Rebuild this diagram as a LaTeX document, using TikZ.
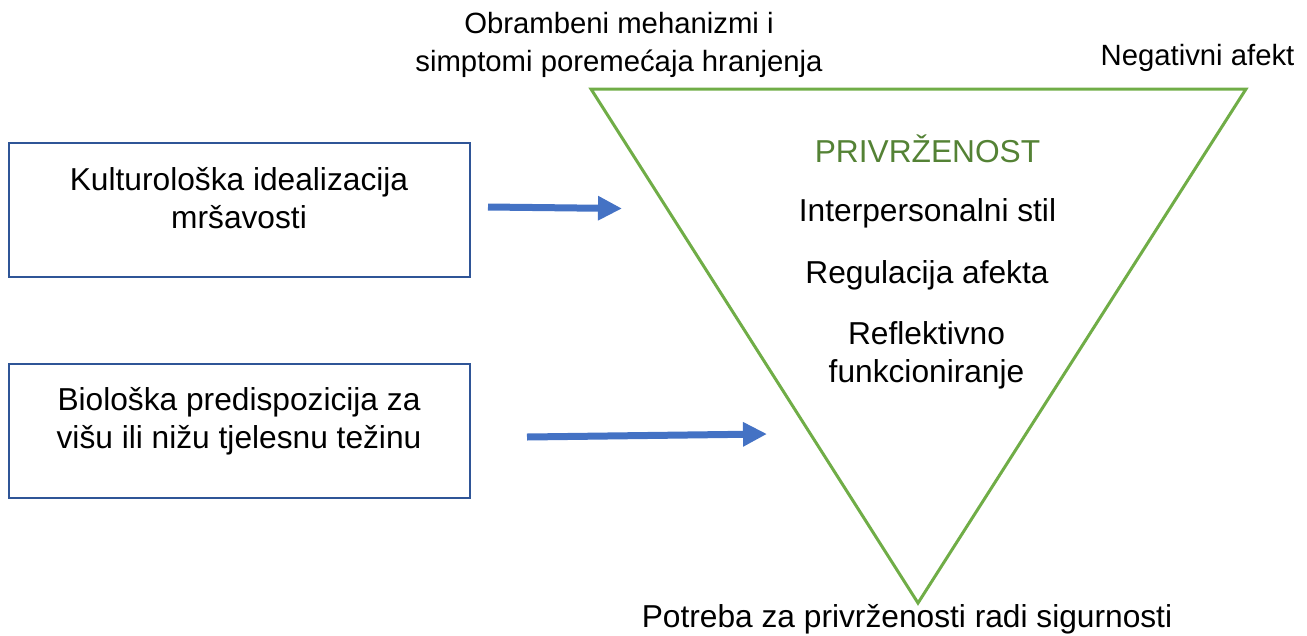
\documentclass[tikz,border=0pt]{standalone}
\usepackage{fontspec}
\setmainfont{Liberation Sans}
\usetikzlibrary{arrows.meta}
\definecolor{boxblue}{HTML}{2F5597}
\definecolor{arrowblue}{HTML}{4472C4}
\definecolor{trigreen}{HTML}{70AD47}
\definecolor{titlegreen}{HTML}{548235}
\begin{document}
\begin{tikzpicture}[x=1pt,y=-1pt,
  bigtxt/.style={font=\fontsize{31.7}{38.5}\selectfont, inner sep=0pt, align=center, anchor=base},
  smalltxt/.style={font=\fontsize{29.3}{38.5}\selectfont, inner sep=0pt, align=center, anchor=base},
  factorbox/.style={draw=boxblue, line width=2pt, minimum width=461pt, minimum height=134pt, inner sep=0pt},
  bluearrow/.style={draw=arrowblue, line width=7pt, -{Triangle[length=24pt,width=23pt]}},
  triline/.style={draw=trigreen, line width=3pt, line join=miter}
]
\useasboundingbox (0,0) rectangle (1307,635);

% boxes
\node[factorbox] (box1) at (239.5,210) {};
\node[factorbox] (box2) at (239.5,430.5) {};
\node[bigtxt] (t1) at (239,228.5) {Kulturološka idealizacija\\mršavosti};
\node[bigtxt] (t2) at (239,448.5) {Biološka predispozicija za\\višu ili nižu tjelesnu težinu};

% triangle
\coordinate (tl) at (591,89);
\coordinate (tr) at (1246,89);
\coordinate (tb) at (918,603);
\draw[triline] (tl) -- (tr) -- (tb) -- cycle;

% arrows
\coordinate (a1s) at (488,207);
\coordinate (a1e) at (622,208.5);
\coordinate (a2s) at (527,437);
\coordinate (a2e) at (767,434);
\draw[bluearrow] (a1s) -- (a1e);
\draw[bluearrow] (a2s) -- (a2e);

% triangle contents
\node[bigtxt, text=titlegreen] (priv) at (927.5,162) {PRIVRŽENOST};
\node[bigtxt] (inter) at (927.5,221) {Interpersonalni stil};
\node[bigtxt] (reg) at (927,283) {Regulacija afekta};
\node[bigtxt] (refl) at (926.5,382.5) {Reflektivno\\funkcioniranje};

% corner labels
\node[smalltxt] (obr) at (619,71.5) {Obrambeni mehanizmi i\\simptomi poremećaja hranjenja};
\node[smalltxt] (neg) at (1197.5,65) {Negativni afekt};
\node[bigtxt] (pot) at (907,627) {Potreba za privrženosti radi sigurnosti};
\end{tikzpicture}
\end{document}
